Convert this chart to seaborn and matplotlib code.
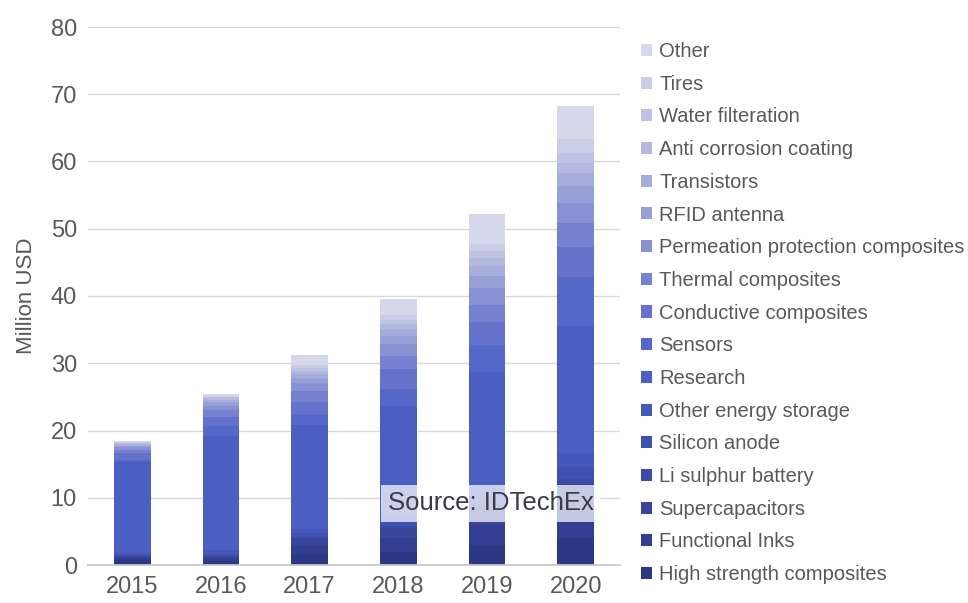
import matplotlib
matplotlib.use("Agg")
import matplotlib.pyplot as plt
import seaborn as sns
import pandas as pd

years = [2015, 2016, 2017, 2018, 2019, 2020]

# stacked from top (first) to bottom (last)
segments = [
    "Other", "Tires", "Water filteration", "Anti corrosion coating", "Transistors",
    "RFID antenna", "Permeation protection composites", "Thermal composites",
    "Conductive composites", "Sensors", "Research", "Other energy storage",
    "Silicon anode", "Li sulphur battery", "Supercapacitors", "Functional Inks",
    "High strength composites",
]

other = [0.2, 0.3, 1.5, 2.4, 4.5, 5.0]
tires = [0.1, 0.2, 0.4, 0.7, 1.0, 2.0]
water = [0.1, 0.2, 0.4, 0.6, 1.0, 1.5]
anti_corrosion = [0.2, 0.3, 0.5, 0.8, 1.2, 1.5]
transistors = [0.2, 0.3, 0.6, 1.0, 1.5, 2.0]
rfid = [0.2, 0.5, 0.8, 1.2, 1.8, 2.5]
permeation = [0.4, 0.7, 1.2, 1.8, 2.5, 3.0]
thermal = [0.5, 1.0, 1.5, 2.0, 2.5, 3.5]
conductive = [1.0, 1.3, 2.0, 3.0, 3.5, 4.5]
sensors = [0.3, 1.5, 1.5, 2.5, 4.0, 7.2]
research = [13.5, 17.0, 15.5, 16.0, 17.0, 19.0]
other_energy = [0.3, 0.5, 0.6, 1.0, 1.5, 2.0]
silicon_anode = [0.2, 0.3, 0.5, 0.8, 1.2, 1.8]
li_sulphur = [0.0, 0.1, 0.2, 0.3, 0.5, 0.8]
supercaps = [0.3, 0.3, 1.0, 1.5, 2.5, 3.5]
functional_inks = [0.2, 0.4, 1.5, 2.0, 3.0, 4.5]
high_strength = [0.8, 0.6, 1.5, 2.0, 3.0, 4.0]

series = [other, tires, water, anti_corrosion, transistors, rfid, permeation,
          thermal, conductive, sensors, research, other_energy, silicon_anode,
          li_sulphur, supercaps, functional_inks, high_strength]

colors = ["#d5d7eb", "#cacde7", "#bfc3e3", "#b3b8df", "#a6acdb", "#979fd7",
          "#8891d3", "#7681cf", "#6472cb", "#5567c7", "#4b5ec2", "#4657b9",
          "#4151b0", "#3c4ba6", "#37459b", "#323f90", "#2c3884"]

rows = []
for name, vals in zip(segments, series):
    for y, v in zip(years, vals):
        rows.append({"year": y, "segment": name, "value": v})
df = pd.DataFrame(rows)

sns.set_theme(style="white")
plt.rcParams["font.family"] = ["Liberation Sans", "DejaVu Sans"]

fig = plt.figure(figsize=(9.68, 6.03), dpi=100)
ax = fig.add_axes([88 / 968, 38 / 603, 532 / 968, 538 / 603])

sns.histplot(data=df, x="year", weights="value", hue="segment",
             hue_order=segments, palette=colors, multiple="stack",
             discrete=True, shrink=0.41, linewidth=0, alpha=1, ax=ax)

ax.set_xlim(2014.5, 2020.5)
ax.set_ylim(0, 80)
ax.set_yticks(range(0, 81, 10))
ax.set_xticks(years)
ax.set_xticklabels([str(y) for y in years])
ax.yaxis.grid(True, color="#d9d9d9", linewidth=1)
ax.set_axisbelow(True)
for s in ["top", "right", "left"]:
    ax.spines[s].set_visible(False)
ax.spines["bottom"].set_color("#c8c8c8")
ax.tick_params(axis="both", labelsize=17, colors="#595959", length=0, pad=8)
ax.set_xlabel("")
ax.set_ylabel("Million USD", fontsize=16, color="#595959", labelpad=10)

ax.text(2019.04, 9.2, "Source: IDTechEx", fontsize=18.5, color="#3a3a4a",
        ha="center", va="center",
        bbox=dict(boxstyle="square,pad=0.25", facecolor="white", alpha=0.72,
                  edgecolor="none"))

sns.move_legend(ax, "upper left", bbox_to_anchor=(633 / 968, 1 - 34 / 603),
                bbox_transform=fig.transFigure, frameon=False, title=None,
                fontsize=14.5, labelspacing=0.68, handlelength=0.55,
                handleheight=0.55, handletextpad=0.35, borderaxespad=0)
for t in ax.get_legend().get_texts():
    t.set_color("#595959")

fig.savefig("out.png", dpi=100)
